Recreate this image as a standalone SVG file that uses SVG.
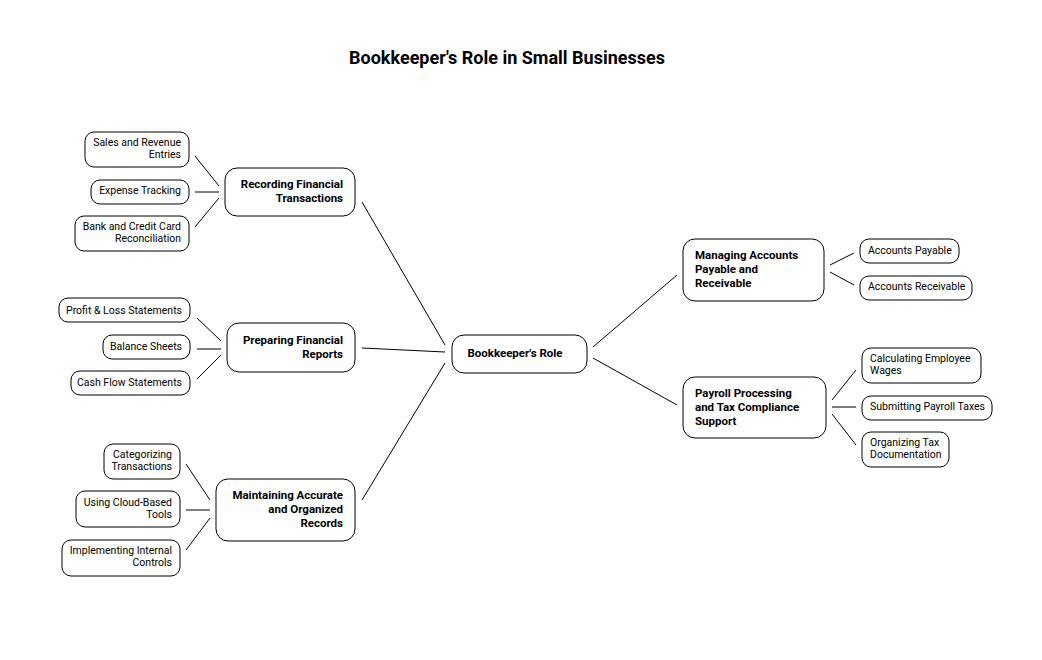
<svg xmlns="http://www.w3.org/2000/svg" width="1042" height="660" viewBox="0 0 1042 660">
<style>
rect{fill:#fff;stroke:#000;stroke-width:1}
.m{rx:12}
.l{rx:9}
text{font-family:Roboto,"Liberation Sans",sans-serif;fill:#000}
.b{font-size:11.5px;font-weight:bold}
.s{font-size:10.5px}
.r{text-anchor:end}
.c{text-anchor:middle}
#conn line{stroke:#000;stroke-width:1}
</style>
<rect x="0" y="0" width="1042" height="660" style="stroke:none"/>
<text x="507" y="64" class="c" style="font-size:18px;font-weight:bold">Bookkeeper's Role in Small Businesses</text>
<g id="conn">
<line x1="445" y1="345" x2="362" y2="202"/><line x1="445" y1="352" x2="362" y2="348"/><line x1="445" y1="363" x2="362" y2="500"/>
<line x1="593" y1="347" x2="677" y2="275"/><line x1="593" y1="358" x2="677" y2="405"/>
<line x1="219" y1="186" x2="195" y2="156"/><line x1="219" y1="192" x2="195" y2="192"/><line x1="219" y1="198" x2="195" y2="227"/>
<line x1="221" y1="341" x2="197" y2="318"/><line x1="221" y1="349" x2="197" y2="349"/><line x1="221" y1="355" x2="197" y2="379"/>
<line x1="210" y1="500" x2="186" y2="464"/><line x1="210" y1="510" x2="186" y2="510"/><line x1="210" y1="518" x2="186" y2="550"/>
<line x1="830" y1="265" x2="854" y2="253"/><line x1="830" y1="272" x2="854" y2="285"/>
<line x1="832" y1="400" x2="856" y2="370"/><line x1="832" y1="407" x2="856" y2="407"/><line x1="832" y1="414" x2="856" y2="445"/>
</g>
<g id="center"><rect class="m" x="452" y="335" width="135" height="38"/><text class="b c" x="515" y="357">Bookkeeper's Role</text></g>
<g id="recording"><rect class="m" x="225" y="168" width="130" height="48"/><text class="b r" x="343" y="188">Recording Financial</text><text class="b r" x="343" y="202">Transactions</text></g>
<g id="preparing"><rect class="m" x="227" y="323" width="128" height="49"/><text class="b r" x="343" y="344">Preparing Financial</text><text class="b r" x="343" y="358">Reports</text></g>
<g id="maintaining"><rect class="m" x="216" y="479" width="139" height="62"/><text class="b r" x="343" y="499">Maintaining Accurate</text><text class="b r" x="343" y="513">and Organized</text><text class="b r" x="343" y="527">Records</text></g>
<g id="managing"><rect class="m" x="683" y="239" width="141" height="62"/><text class="b" x="695" y="259">Managing Accounts</text><text class="b" x="695" y="273">Payable and</text><text class="b" x="695" y="287">Receivable</text></g>
<g id="payroll"><rect class="m" x="683" y="377" width="143" height="61"/><text class="b" x="695" y="397">Payroll Processing</text><text class="b" x="695" y="411">and Tax Compliance</text><text class="b" x="695" y="425">Support</text></g>
<g id="sales"><rect class="l" x="85" y="132" width="104" height="35"/><text class="s r" x="181" y="146">Sales and Revenue</text><text class="s r" x="181" y="158">Entries</text></g>
<g id="expense"><rect class="l" x="91" y="180" width="98" height="24"/><text class="s r" x="181" y="194">Expense Tracking</text></g>
<g id="bank"><rect class="l" x="75" y="216" width="114" height="35"/><text class="s r" x="181" y="230">Bank and Credit Card</text><text class="s r" x="181" y="242">Reconciliation</text></g>
<g id="pl"><rect class="l" x="59" y="298" width="131" height="24"/><text class="s r" x="182" y="314">Profit &amp; Loss Statements</text></g>
<g id="balance"><rect class="l" x="103" y="335" width="87" height="24"/><text class="s r" x="182" y="350">Balance Sheets</text></g>
<g id="cashflow"><rect class="l" x="71" y="371" width="119" height="24"/><text class="s r" x="182" y="386">Cash Flow Statements</text></g>
<g id="categorizing"><rect class="l" x="104" y="444" width="76" height="35"/><text class="s r" x="172" y="458">Categorizing</text><text class="s r" x="172" y="470">Transactions</text></g>
<g id="cloud"><rect class="l" x="76" y="491" width="104" height="36"/><text class="s r" x="172" y="506">Using Cloud-Based</text><text class="s r" x="172" y="518">Tools</text></g>
<g id="internal"><rect class="l" x="62" y="540" width="118" height="36"/><text class="s r" x="172" y="554">Implementing Internal</text><text class="s r" x="172" y="566">Controls</text></g>
<g id="payable"><rect class="l" x="860" y="239" width="99" height="24"/><text class="s" x="868" y="254">Accounts Payable</text></g>
<g id="receivable"><rect class="l" x="860" y="276" width="112" height="24"/><text class="s" x="868" y="290">Accounts Receivable</text></g>
<g id="wages"><rect class="l" x="862" y="348" width="119" height="35"/><text class="s" x="870" y="362">Calculating Employee</text><text class="s" x="870" y="374">Wages</text></g>
<g id="taxes"><rect class="l" x="862" y="396" width="130" height="24"/><text class="s" x="870" y="410">Submitting Payroll Taxes</text></g>
<g id="taxdoc"><rect class="l" x="862" y="432" width="87" height="35"/><text class="s" x="870" y="446">Organizing Tax</text><text class="s" x="870" y="458">Documentation</text></g>
</svg>
